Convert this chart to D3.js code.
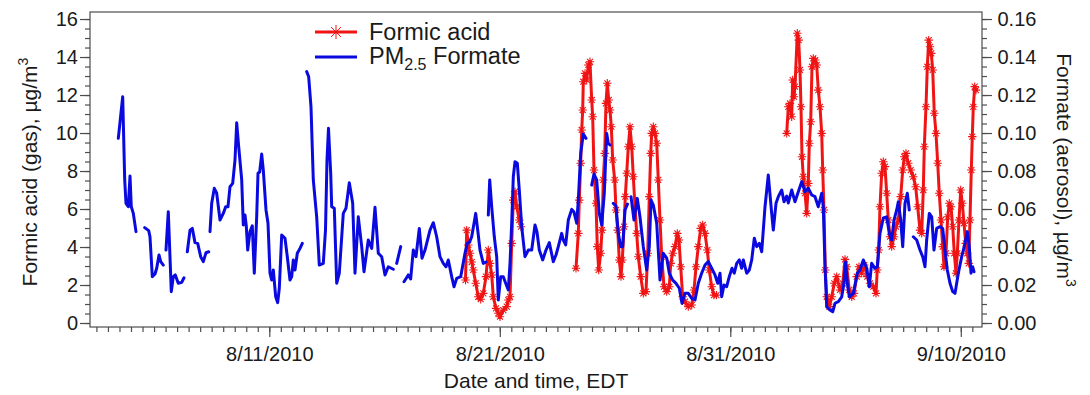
<!DOCTYPE html>
<html>
<head>
<meta charset="utf-8">
<script src="https://cdn.jsdelivr.net/npm/d3@7"></script>
<style>
  html, body { margin: 0; padding: 0; background: #fff; }
  svg { display: block; font-family: "Liberation Sans", Arial, Helvetica, sans-serif; }
</style>
</head>
<body>
<svg id="chart" width="1090" height="395"></svg>
<script>
// Sample times are days since 2010-08-01 00:00 EDT; null marks a break in sampling.
const formateDays = [
  3.449, 3.640, 3.727, 3.783, 3.883, 3.957, 4.013, 4.100, 4.217, 4.40,
  4.594, 4.768, 4.824, 4.924, 5.041, 5.115, 5.215, 5.289, 5.401, 5.46,
  5.518, 5.618, 5.748, 5.835, 5.922, 6.052, 6.200, 6.299, 6.37,
  6.443, 6.560, 6.659, 6.777, 6.894, 7.024, 7.137, 7.254, 7.371, 7.40,
  7.427, 7.501, 7.614, 7.718, 7.861, 8.004, 8.108, 8.208, 8.295, 8.412, 8.512, 8.586, 8.672,
  8.803, 8.872, 8.946, 9.002, 9.063, 9.163, 9.262, 9.349, 9.453, 9.510, 9.583, 9.670, 9.740,
  9.857, 9.944, 10.030, 10.104, 10.174, 10.278, 10.364, 10.434, 10.538, 10.681, 10.781,
  10.898, 10.972, 11.041, 11.115, 11.215, 11.332, 11.432, 11.53,
  11.622, 11.709, 11.809, 11.909, 12.056, 12.169, 12.343, 12.438, 12.503, 12.568, 12.664,
  12.707, 12.820, 12.924, 13.037, 13.210, 13.327, 13.471, 13.618, 13.718, 13.861, 14.009,
  14.108, 14.295, 14.443, 14.586, 14.729, 14.876, 15.020, 15.163, 15.380, 15.45,
  15.527, 15.701, 15.77,
  15.844, 16.030, 16.134, 16.247, 16.364, 16.508, 16.625, 16.755, 16.972, 17.115, 17.262,
  17.405, 17.549, 17.666, 17.766, 17.913, 18.013, 18.130, 18.304, 18.490, 18.590, 18.686,
  18.781, 18.955, 19.067, 19.141, 19.284, 19.401, 19.45,
  19.501, 19.562, 19.649, 19.761, 19.865, 19.935, 20.039, 20.152, 20.256, 20.369, 20.443,
  20.516, 20.586, 20.660, 20.760, 20.846, 20.950, 21.093, 21.236, 21.384, 21.527, 21.614,
  21.714, 21.861, 22.004, 22.148, 22.321, 22.438, 22.538, 22.685, 22.755, 22.859, 22.972,
  23.120, 23.219, 23.336, 23.406, 23.510, 23.623, 23.740, 23.86,
  23.987, 24.087, 24.204, 24.317, 24.421, 24.534, 24.638, 24.707, 24.781, 24.85,
  24.924, 25.041, 25.141, 25.245, 25.332, 25.432, 25.540, 25.62,
  25.692, 25.822, 25.965, 26.082, 26.226, 26.373, 26.486, 26.560, 26.660, 26.807, 26.951,
  27.094, 27.241, 27.354, 27.501, 27.645, 27.788, 27.905, 28.035, 28.178, 28.326, 28.469,
  28.612, 28.757, 28.902, 29.045, 29.193, 29.336, 29.453, 29.553, 29.627, 29.727, 29.843,
  29.956, 30.074, 30.173, 30.278, 30.391, 30.495, 30.564, 30.712, 30.825, 30.929, 31.042,
  31.146, 31.259, 31.363, 31.506, 31.649, 31.796, 31.866, 31.983, 32.083, 32.231, 32.330,
  32.447, 32.517, 32.664, 32.807, 32.951, 33.098, 33.241, 33.384, 33.532, 33.675, 33.818,
  33.966, 34.035, 34.109, 34.183, 34.326, 34.443, 34.543, 34.686, 34.834, 34.921, 34.999,
  35.077, 35.163, 35.337, 35.510, 35.627, 35.770, 35.923, 36.029, 36.133, 36.277, 36.377,
  36.494, 36.638, 36.785, 36.898, 37.002, 37.102, 37.219, 37.289, 37.393, 37.480, 37.579,
  37.679, 37.766, 37.85,
  37.939, 38.087, 38.230, 38.347, 38.447, 38.520, 38.634, 38.738, 38.837, 38.954, 39.098,
  39.215, 39.315, 39.415, 39.532, 39.649, 39.749, 39.892, 40.039, 40.182, 40.282, 40.369,
  40.443, 40.516, 40.573
];
// PM2.5 formate, µg/m³ (right axis)
const formateValues = [
  .0972, .1191, .0753, .0630, .0612, .0774, .0612, .0577, .0481, null,
  .0502, .0486, .0454, .0244, .0258, .0288, .0358, .0323, .0305, null,
  .0384, .0586, .0165, .0244, .0253, .0209, .0214, .0238, null,
  .0375, .0489, .0498, .0423, .0419, .0349, .0323, .0370, .0375, null,
  .0481, .0630, .0709, .0683, .0542, .0577, .0612, .0612, .0717, .0735, .0858, .1054, .0928,
  .0753, .0516, .0568, .0511, .0384, .0481, .0511, .0262, .0559, .0788, .0795, .0889, .0805,
  .0595, .0525, .0262, .0226, .0279, .0138, .0107, .0183, .0463, .0446, .0349,
  .0226, .0244, .0332, .0279, .0367, .0393, .0419, null,
  .1323, .1296, .1138, .0753, .0559, .0305, .0314, .0489, .0858, .1025, .0788,
  .0612, .0604, .0209, .0262, .0577, .0604, .0738, .0630, .0262, .0559, .0402,
  .0270, .0437, .0393, .0609, .0367, .0349, .0253, .0296, .0283, null,
  .0314, .0402, null,
  .0217, .0253, .0232, .0384, .0349, .0498, .0341, .0384, .0489, .0528, .0454,
  .0349, .0314, .0296, .0332, .0244, .0191, .0235, .0244, .0367, .0419, .0426,
  .0454, .0577, .0463, .0384, .0314, .0321, null,
  .0568, .0753, .0612, .0454, .0349, .0121, .0244, .0244, .0209, .0174, .0314,
  .0525, .0770, .0849, .0841, .0700, .0507, .0349, .0384, .0384, .0516, .0479,
  .0384, .0332, .0384, .0423, .0323, .0358, .0402, .0472, .0437, .0411, .0542,
  .0598, .0584, .0525, .0647, .0893, .0995, .0972, null,
  .0726, .0784, .0753, .0577, .0516, .0683, .0998, .0946, .0937, null,
  .0630, .0616, .0472, .0402, .0402, .0595, .0626, null,
  .0665, .0542, .0656, .0559, .0402, .0279, .0402, .0647, .0621, .0525, .0226,
  .0367, .0342, .0262, .0226, .0209, .0183, .0104, .0156, .0156, .0130, .0121,
  .0209, .0262, .0305, .0323, .0288, .0253, .0209, .0262, .0138, .0200, .0191,
  .0244, .0288, .0262, .0314, .0332, .0288, .0332, .0262, .0279, .0332, .0446,
  .0402, .0419, .0375, .0612, .0779, .0577, .0489, .0630, .0665, .0700, .0638,
  .0668, .0632, .0700, .0638, .0691, .0744, .0691, .0709, .0674, .0665, .0612,
  .0683, .0612, .0296, .0086, .0068, .0059, .0104, .0112, .0138, .0200, .0321,
  .0211, .0138, .0156, .0262, .0279, .0332, .0288, .0191, .0314, .0288, .0296,
  .0472, .0553, .0559, .0472, .0437, .0542, .0595, .0638, .0542, .0402, .0630,
  .0683, .0595, null,
  .0454, .0437, .0384, .0349, .0296, .0437, .0577, .0559, .0384, .0498, .0507,
  .0498, .0384, .0279, .0209, .0165, .0156, .0262, .0349, .0419, .0481, .0402,
  .0262, .0296, .0270
];

const acidDays = [
  18.512, 18.564, 18.634, 18.708, 18.781, 18.850, 18.955, 19.067, 19.171, 19.284, 19.401,
  19.501, 19.575, 19.649, 19.718, 19.835, 19.935, 20.009, 20.152, 20.299, 20.369, 20.443,
  20.516, 20.586, 20.660, 20.733, 20.846, 20.920, 22.0,
  23.306, 23.406, 23.449, 23.510, 23.553, 23.597, 23.623, 23.697, 23.770, 23.840, 23.913,
  23.987, 24.030, 24.087, 24.174, 24.230, 24.291, 24.377, 24.434, 24.490, 24.551, 24.607,
  24.664, 24.725, 24.781, 24.838, 24.898, 24.985, 25.041, 25.115, 25.184, 25.258, 25.315,
  25.389, 25.445, 25.506, 25.575, 25.649, 25.723, 25.792, 25.866, 25.939, 26.009, 26.113,
  26.226, 26.343, 26.417, 26.486, 26.547, 26.590, 26.660, 26.733, 26.807, 26.876, 26.951,
  27.024, 27.124, 27.241, 27.354, 27.415, 27.501, 27.601, 27.701, 27.775, 27.848, 27.935,
  28.035, 28.178, 28.326, 28.426, 28.513, 28.612, 28.716, 28.803, 28.902, 29.002, 29.088,
  29.193, 29.293, 29.401, 31.0,
  32.447, 32.517, 32.590, 32.664, 32.707, 32.764, 32.807, 32.907, 32.968, 33.024, 33.067,
  33.111, 33.167, 33.241, 33.315, 33.384, 33.428, 33.488, 33.545, 33.601, 33.688, 33.749,
  33.818, 33.892, 33.966, 34.009, 34.065, 34.122, 34.183, 34.296, 34.400, 34.512, 34.616,
  34.759, 34.877, 34.977, 35.050, 35.163, 35.267, 35.367, 35.484, 35.584, 35.701, 35.813,
  35.943, 36.060, 36.204, 36.321, 36.377, 36.438, 36.494, 36.568, 36.638, 36.711, 36.785,
  36.855, 36.929, 37.002, 37.102, 37.189, 37.289, 37.393, 37.480, 37.549, 37.623, 37.722,
  37.826, 37.939, 38.043, 38.130, 38.230, 38.304, 38.373, 38.417, 38.490, 38.547, 38.608,
  38.664, 38.720, 38.781, 38.850, 38.924, 38.998, 39.067, 39.141, 39.215, 39.271, 39.358,
  39.432, 39.502, 39.575, 39.649, 39.718, 39.792, 39.848, 39.922, 39.996, 40.065, 40.139,
  40.213, 40.282, 40.343, 40.399, 40.456, 40.499, 40.543, 40.604, 40.660
];
// Formic acid (gas), µg/m³ (left axis)
const acidValues = [
  2.26, 4.89, 4.11, 3.67, 3.21, 2.79, 2.09, 1.38, 1.25, 1.56, 2.44,
  3.84, 3.14, 2.53, 1.38, 0.77, 0.51, 0.33, 0.68, 0.86, 1.21, 1.38,
  4.19, 6.47, 6.91, 6.12, 5.42, 5.07, null,
  2.88, 4.72, 6.47, 8.41, 10.16, 11.21, 12.70, 13.14, 12.79, 13.58, 13.75,
  11.74, 10.86, 8.05, 6.30, 4.02, 2.79, 3.67, 4.89, 7.53, 8.93, 11.56,
  12.62, 11.74, 11.21, 10.33, 8.58, 7.53, 5.95, 4.89, 3.32, 2.44, 3.32,
  5.07, 6.65, 7.88, 9.28, 10.33, 9.28, 7.70, 6.12, 4.72, 3.49, 2.44,
  1.56, 1.65, 3.67, 6.65, 8.93, 9.98, 10.33, 9.98, 9.46, 7.53, 5.42,
  3.49, 1.91, 1.65, 1.91, 3.14, 3.67, 4.02, 4.72, 4.37, 2.96, 1.38,
  1.12, 0.86, 0.95, 1.74, 2.96, 4.02, 4.98, 5.16, 4.72, 3.84, 2.79,
  1.91, 1.47, 1.47, null,
  9.98, 11.38, 11.56, 10.86, 12.79, 11.91, 12.44, 15.25, 14.89, 13.32, 11.38,
  8.75, 7.70, 6.83, 5.77, 7.35, 9.46, 10.59, 13.49, 13.93, 13.84, 13.58,
  12.26, 11.38, 9.98, 8.05, 5.95, 2.79, 1.38, 0.86, 1.38, 2.09, 2.44,
  1.74, 2.09, 3.35, 2.96, 1.74, 1.38, 1.56, 2.44, 2.96, 2.62, 3.05,
  2.44, 2.09, 1.91, 1.56, 2.79, 3.84, 6.12, 7.88, 8.49, 8.23, 6.83,
  5.42, 4.54, 4.02, 4.54, 5.07, 5.42, 6.65, 8.05, 8.75, 8.93, 8.41,
  8.05, 7.70, 7.17, 6.12, 4.89, 4.72, 7.00, 9.28, 11.38, 13.49, 14.89,
  14.54, 14.19, 13.32, 11.04, 9.98, 8.41, 6.83, 5.42, 4.02, 2.96, 3.67,
  5.59, 6.30, 6.12, 5.07, 3.67, 2.62, 3.67, 5.42, 7.00, 6.30, 5.25,
  4.19, 3.67, 3.14, 5.42, 8.05, 9.81, 11.38, 12.44, 12.26
];

const leftTicks = [0, 2, 4, 6, 8, 10, 12, 14, 16];
const rightTicks = [0, 0.02, 0.04, 0.06, 0.08, 0.10, 0.12, 0.14, 0.16];
const dateTicks = ["8/11/2010", "8/21/2010", "8/31/2010", "9/10/2010"];
const seriesNames = ["Formic acid", "PM", "2.5", " Formate"];

// ---- layout ----
const frame = { left: 90, right: 982, top: 12, bottom: 327 };
const RED = "#f01414", BLUE = "#0a0ae0", AXIS = "#4d4d4d", INK = "#1a1a1a";

const day0 = new Date(2010, 7, 1);
const toDate = d => new Date(day0.getTime() + d * 864e5);
const parseTick = d3.timeParse("%m/%d/%Y");

const svg = d3.select("#chart");

const x = d3.scaleTime().domain([toDate(2.2213), toDate(40.92)]).range([frame.left, frame.right]);
const yL = d3.scaleLinear().domain([-0.21, 16.37]).range([frame.bottom, frame.top]);
const yR = d3.scaleLinear().domain([-0.0021, 0.1637]).range([frame.bottom, frame.top]);

function styleAxis(g, size) {
  g.attr("font-family", null).attr("font-size", null);
  g.select(".domain").remove();
  g.selectAll(".tick line").attr("stroke", AXIS).attr("stroke-width", 1.2);
  g.selectAll(".tick text").attr("fill", INK).style("font-size", size + "px");
}

// left axis: minor then major ticks
svg.append("g").attr("transform", `translate(${frame.left},0)`)
  .call(d3.axisLeft(yL).tickValues(d3.range(0, 16.01, 0.5)).tickSize(5).tickFormat(""))
  .call(g => styleAxis(g, 20));
svg.append("g").attr("transform", `translate(${frame.left},0)`)
  .call(d3.axisLeft(yL).tickValues(leftTicks).tickSize(10).tickPadding(2).tickFormat(d3.format("d")))
  .call(g => styleAxis(g, 20));

// right axis
svg.append("g").attr("transform", `translate(${frame.right},0)`)
  .call(d3.axisRight(yR).tickValues(d3.range(0, 0.1601, 0.005)).tickSize(5).tickFormat(""))
  .call(g => styleAxis(g, 20));
svg.append("g").attr("transform", `translate(${frame.right},0)`)
  .call(d3.axisRight(yR).tickValues(rightTicks).tickSize(10).tickPadding(5.5).tickFormat(d3.format(".2f")))
  .call(g => styleAxis(g, 20));

// bottom axis: 12-hour minor ticks, 10-day labelled ticks
svg.append("g").attr("transform", `translate(0,${frame.bottom})`)
  .call(d3.axisBottom(x).tickValues(d3.timeHour.every(12).range(x.domain()[0], x.domain()[1])).tickSize(5).tickFormat(""))
  .call(g => styleAxis(g, 20));
svg.append("g").attr("transform", `translate(0,${frame.bottom})`)
  .call(d3.axisBottom(x).tickValues(dateTicks.map(parseTick)).tickSize(10).tickPadding(10)
    .tickFormat(d3.timeFormat("%-m/%-d/%Y")))
  .call(g => styleAxis(g, 20));

// plot frame
svg.append("rect")
  .attr("x", frame.left).attr("y", frame.top)
  .attr("width", frame.right - frame.left).attr("height", frame.bottom - frame.top)
  .attr("fill", "none").attr("stroke", AXIS).attr("stroke-width", 1.2);

// clip for data
svg.append("clipPath").attr("id", "plotclip").append("rect")
  .attr("x", frame.left).attr("y", frame.top)
  .attr("width", frame.right - frame.left).attr("height", frame.bottom - frame.top);
const plot = svg.append("g").attr("clip-path", "url(#plotclip)");

const formate = formateDays.map((d, i) => ({ t: toDate(d), v: formateValues[i] }));
const acid = acidDays.map((d, i) => ({ t: toDate(d), v: acidValues[i] }));

const r = 4.2, k = r * 0.7071;
const star = `M${-r},0H${r}M0,${-r}V${r}M${-k},${-k}L${k},${k}M${-k},${k}L${k},${-k}`;

// gas-phase formic acid (red) with asterisk markers
plot.append("path").datum(acid)
  .attr("fill", "none").attr("stroke", RED).attr("stroke-width", 3)
  .attr("stroke-linejoin", "round").attr("stroke-linecap", "round")
  .attr("d", d3.line().defined(d => d.v != null).x(d => x(d.t)).y(d => yL(d.v)));
plot.append("g").selectAll("path").data(acid.filter(d => d.v != null)).join("path")
  .attr("d", star).attr("transform", d => `translate(${x(d.t)},${yL(d.v)})`)
  .attr("fill", "none").attr("stroke", RED).attr("stroke-width", 1.1);

// aerosol formate (blue), drawn over the gas trace
plot.append("path").datum(formate)
  .attr("fill", "none").attr("stroke", BLUE).attr("stroke-width", 3)
  .attr("stroke-linejoin", "round").attr("stroke-linecap", "round")
  .attr("d", d3.line().defined(d => d.v != null).x(d => x(d.t)).y(d => yR(d.v)));

// axis titles
const leftTitle = svg.append("text").attr("transform", "translate(37,172) rotate(-90)")
  .attr("text-anchor", "middle").attr("fill", INK).style("font-size", "21px");
leftTitle.append("tspan").text("Formic acid (gas), µg/m");
leftTitle.append("tspan").attr("dy", -9).style("font-size", "14px").text("3");

const rightTitle = svg.append("text").attr("transform", "translate(1057,170) rotate(90)")
  .attr("text-anchor", "middle").attr("fill", INK).style("font-size", "21px");
rightTitle.append("tspan").text("Formate (aerosol), µg/m");
rightTitle.append("tspan").attr("dy", -9).style("font-size", "14px").text("3");

svg.append("text").attr("x", (frame.left + frame.right) / 2).attr("y", 388)
  .attr("text-anchor", "middle").attr("fill", INK).style("font-size", "21px")
  .text("Date and time, EDT");

// legend
const lg = svg.append("g");
lg.append("line").attr("x1", 315).attr("x2", 357).attr("y1", 32).attr("y2", 32)
  .attr("stroke", RED).attr("stroke-width", 3);
lg.append("path").attr("d", `M-7,0H7M0,-7V7M-5,-5L5,5M-5,5L5,-5`).attr("transform", "translate(336,32)")
  .attr("fill", "none").attr("stroke", RED).attr("stroke-width", 1);
lg.append("text").attr("x", 369).attr("y", 40).attr("fill", INK).style("font-size", "23.5px").text(seriesNames[0]);
lg.append("line").attr("x1", 315).attr("x2", 357).attr("y1", 57).attr("y2", 57)
  .attr("stroke", BLUE).attr("stroke-width", 3);
const t2 = lg.append("text").attr("x", 369).attr("y", 64).attr("fill", INK).style("font-size", "23.5px");
t2.append("tspan").text(seriesNames[1]);
t2.append("tspan").attr("dy", 6).style("font-size", "16px").text(seriesNames[2]);
t2.append("tspan").attr("dy", -6).text(seriesNames[3]);
</script>
</body>
</html>
